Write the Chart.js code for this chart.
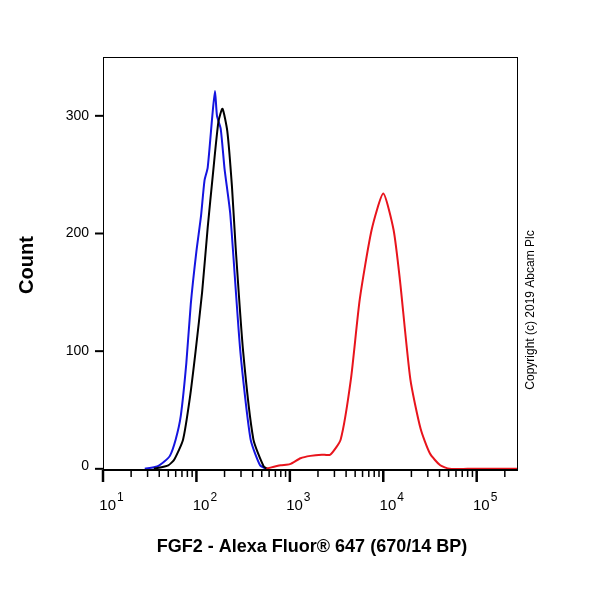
<!DOCTYPE html>
<html>
<head>
<meta charset="utf-8">
<script src="https://cdn.jsdelivr.net/npm/chart.js@4"></script>
<style>
  html, body { margin: 0; padding: 0; background: #fff; }
  #wrap { width: 600px; height: 600px; }
</style>
</head>
<body>
<div id="wrap"><canvas id="c"></canvas></div>
<script>
// fluorescence (x) and count (y)
const blueX  = [28, 38, 45, 52, 60, 68, 78, 87, 100, 112, 122, 132, 148, 158, 166, 182, 200, 230, 295, 380, 480, 560];
const blueY  = [0, 2, 6, 11, 25, 45, 90, 140, 185, 215, 245, 256, 300, 321, 300, 289, 255, 217, 100, 25, 3, 0];
const blackX = [35, 50, 58, 72, 85, 98, 115, 132, 150, 172, 190, 214, 240, 263, 316, 407, 525, 580];
const blackY = [0, 3, 8, 25, 60, 100, 150, 205, 250, 295, 306, 287, 240, 188, 100, 25, 2, 0];
const redX   = [560, 620, 800, 1000, 1300, 1660, 2200, 2700, 3500, 4500, 5600, 7500, 10000, 12900, 15100, 19500, 25100, 31600, 40700, 51300, 80000, 270000];
const redY   = [0, 1, 3, 4, 9, 11, 12, 12, 25, 76, 144, 203, 234, 203, 160, 76, 34, 13, 3, 0, 0, 0];
const yTicks = [0, 100, 200, 300];
const xDecades = [1, 2, 3, 4, 5];

const toPts = (xs, ys) => xs.map((x, i) => ({ x, y: ys[i] }));
const FONT = "Arial, 'Liberation Sans', sans-serif";

const axesPlugin = {
  id: 'flowAxes',
  afterDraw(chart) {
    const { ctx, chartArea: a, scales } = chart;
    const xs = scales.x, ys = scales.y;
    ctx.save();
    ctx.strokeStyle = '#000';
    ctx.fillStyle = '#000';
    ctx.lineWidth = 1;
    // frame
    ctx.strokeRect(a.left + 0.5, a.top + 0.5, a.right - a.left, a.bottom - a.top);
    // bottom axis
    ctx.lineWidth = 2;
    ctx.beginPath(); ctx.moveTo(a.left, a.bottom); ctx.lineTo(a.right, a.bottom); ctx.stroke();
    // x ticks
    for (let d = 1; d <= 5; d++) {
      for (let m = 1; m <= 9; m++) {
        const v = m * Math.pow(10, d);
        if (v > xs.max) break;
        const px = xs.getPixelForValue(v);
        ctx.lineWidth = m === 1 ? 2.5 : 1.5;
        ctx.beginPath(); ctx.moveTo(px, a.bottom); ctx.lineTo(px, a.bottom + (m === 1 ? 12 : 7)); ctx.stroke();
      }
    }
    ctx.textBaseline = 'alphabetic';
    xDecades.forEach(d => {
      const px = xs.getPixelForValue(Math.pow(10, d)) + 9;
      ctx.font = '15px ' + FONT;
      ctx.textAlign = 'right';
      ctx.fillText('10', px + 4, a.bottom + 40);
      ctx.font = '12px ' + FONT;
      ctx.textAlign = 'left';
      ctx.fillText(String(d), px + 5, a.bottom + 31);
    });
    // y ticks
    ctx.lineWidth = 2;
    ctx.textAlign = 'right';
    ctx.textBaseline = 'middle';
    ctx.font = '14px ' + FONT;
    yTicks.forEach(v => {
      const py = ys.getPixelForValue(v);
      ctx.beginPath(); ctx.moveTo(a.left - 8, py); ctx.lineTo(a.left, py); ctx.stroke();
      ctx.fillText(String(v), a.left - 14, v === 0 ? py - 3 : py);
    });
    // titles
    ctx.font = 'bold 18px ' + FONT;
    ctx.textAlign = 'center';
    ctx.fillText('FGF2 - Alexa Fluor® 647 (670/14 BP)', 312, 547);
    ctx.save();
    ctx.translate(27, 265);
    ctx.rotate(-Math.PI / 2);
    ctx.font = 'bold 20px ' + FONT;
    ctx.fillText('Count', 0, 0);
    ctx.restore();
    ctx.save();
    ctx.translate(531, 310);
    ctx.rotate(-Math.PI / 2);
    ctx.font = '12px ' + FONT;
    ctx.fillText('Copyright (c) 2019 Abcam Plc', 0, 0);
    ctx.restore();
    ctx.restore();
  }
};

const line = (label, xs, ys, color) => ({
  label, data: toPts(xs, ys), borderColor: color, borderWidth: 2,
  showLine: true, pointRadius: 0, tension: 0.2, fill: false
});

new Chart(document.getElementById('c'), {
  type: 'scatter',
  data: {
    datasets: [
      line('Red', redX, redY, '#e8141c'),
      line('Black', blackX, blackY, '#000000'),
      line('Blue', blueX, blueY, '#1515e0')
    ]
  },
  options: {
    responsive: true, maintainAspectRatio: false, animation: false,
    layout: { padding: { left: 103, right: 83, top: 57, bottom: 130 } },
    plugins: { legend: { display: false }, tooltip: { enabled: false } },
    scales: {
      x: { type: 'logarithmic', min: 10, max: 270000, display: false },
      y: { type: 'linear', min: -1, max: 350, display: false }
    }
  },
  plugins: [axesPlugin]
});
</script>
</body>
</html>
